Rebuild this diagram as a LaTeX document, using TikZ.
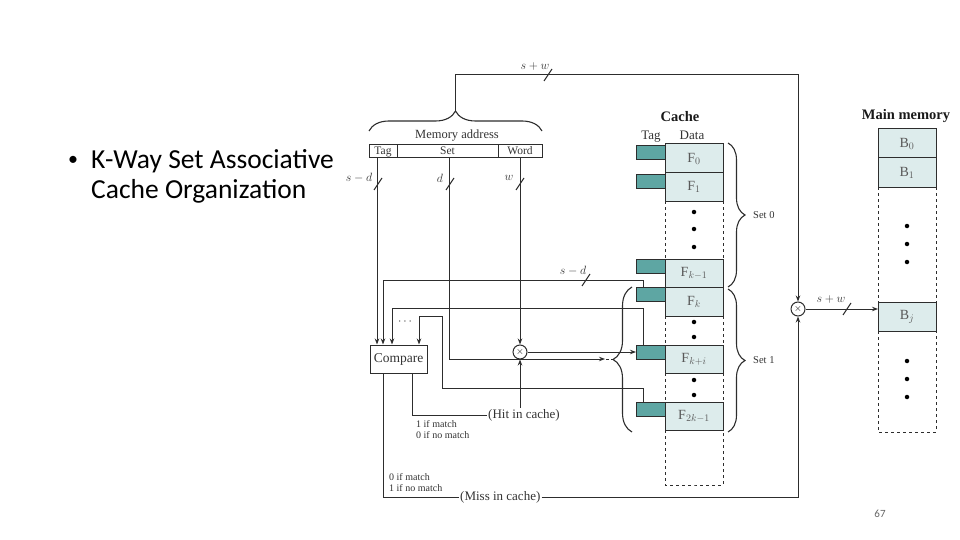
\documentclass[tikz,border=0pt]{standalone}
\usepackage{fontspec}
\setmainfont{Liberation Serif}
\newfontfamily\calibri{Carlito}
\usetikzlibrary{arrows.meta,decorations.pathreplacing,calc}
\definecolor{tagc}{RGB}{94,166,163}
\definecolor{datac}{RGB}{221,236,236}
\definecolor{lnc}{RGB}{45,45,45}
\begin{document}
\begin{tikzpicture}[x=1pt,y=-1pt,
  ln/.style={draw=lnc, line width=1pt},
  arr/.style={ln, -{Stealth[length=6pt,width=4.5pt]}},
  fld/.style={draw=lnc, line width=1pt, minimum height=13pt, text height=8pt, text depth=2.5pt, inner sep=0pt, outer sep=0pt, anchor=north west, text=black!80, font=\fontsize{11.5}{12}\selectfont},
  tagbox/.style={draw=lnc, fill=tagc, line width=0.9pt, minimum width=29pt, minimum height=14pt, inner sep=0pt, outer sep=0pt, anchor=north west},
  databox/.style={draw=lnc, fill=datac, line width=1pt, minimum width=58pt, inner sep=0pt, outer sep=0pt, anchor=north west, text=black!65, font=\fontsize{14}{16}\selectfont},
  dashedcol/.style={draw=lnc, line width=0.9pt, dashed},
  dotn/.style={circle, fill=black, inner sep=0pt, minimum size=4.5pt},
  mux/.style={circle, draw=lnc, line width=1pt, minimum size=14pt, inner sep=0pt, font=\fontsize{10}{10}\selectfont},
  lbl/.style={font=\fontsize{13}{15}\selectfont, text=black!80, inner sep=1pt},
  slbl/.style={font=\fontsize{12}{14}\selectfont, text=black!80, inner sep=0pt},
  small/.style={font=\fontsize{10}{11}\selectfont, text=black!80, align=left, inner sep=0pt},
  head/.style={font=\bfseries\fontsize{14.5}{16}\selectfont, text=black!90},
  mybrace/.style={decorate, decoration={brace, amplitude=#1}, draw=lnc, line width=1.1pt},
  slashmark/.pic={\draw[draw=lnc, line width=1pt] (-4,6) -- (4,-6);}
]
\useasboundingbox (0,0) rectangle (960,540);

% title text
\node[anchor=base west, inner sep=0pt, font=\calibri\fontsize{20}{30}\selectfont] (bul) at (68,166) {•};
\node[anchor=base west, inner sep=0pt, font=\calibri\fontsize{27.5}{30}\selectfont] (tl1) at (91,168) {K-Way Set Associative};
\node[anchor=base west, inner sep=0pt, font=\calibri\fontsize{27.5}{30}\selectfont] (tl2) at (91,198) {Cache Organization};
\node[font=\calibri\fontsize{11}{13}\selectfont, text=black!60] (pn) at (880,514) {67};

% memory address
\node[fld, minimum width=28pt] (tagf) at (369,145) {Tag};
\node[fld, minimum width=101pt] (setf) at (397,145) {Set};
\node[fld, minimum width=44pt] (wordf) at (498,145) {Word};
\node[lbl, font=\fontsize{12.5}{14}\selectfont] (maddr) at (457,136) {Memory address};
\draw[mybrace=20pt] (369,131) -- (542,131);
\coordinate (atip) at (455.5,111);

% cache
\node[head] (cachet) at (680,117) {Cache};
\node[lbl, anchor=base] (tagh) at (651,140) {Tag};
\node[lbl, anchor=base] (datah) at (692,140) {Data};

\node[databox, minimum height=29pt] (f0) at (665,144) {F$_0$};
\node[databox, minimum height=28pt] (f1) at (665,173) {F$_1$};
\node[databox, minimum height=28pt] (fk1) at (665,259) {F$_{k-1}$};
\node[databox, minimum height=29pt] (fk) at (665,287) {F$_k$};
\node[databox, minimum height=28pt] (fki) at (665,345) {F$_{k+i}$};
\node[databox, minimum height=28pt] (f2k) at (665,402) {F$_{2k-1}$};

\node[tagbox] (t0) at (636,145) {};
\node[tagbox] (t1) at (636,174) {};
\node[tagbox] (tk1) at (636,259) {};
\node[tagbox] (tk) at (636,287) {};
\node[tagbox] (tki) at (636,345) {};
\node[tagbox] (t2k) at (636,402) {};

\coordinate (cbot) at (694,485);
\draw[dashedcol] (f1.south west) -- (fk1.north west);
\draw[dashedcol] (f1.south east) -- (fk1.north east);
\draw[dashedcol] (fk.south west) -- (fki.north west);
\draw[dashedcol] (fk.south east) -- (fki.north east);
\draw[dashedcol] (fki.south west) -- (f2k.north west);
\draw[dashedcol] (fki.south east) -- (f2k.north east);
\draw[dashedcol] (f2k.south west) |- (cbot) -| (f2k.south east);

\node[dotn] (cd1) at (694,212) {};
\node[dotn] (cd2) at (694,229) {};
\node[dotn] (cd3) at (694,247) {};
\node[dotn] (cd4) at (694,322) {};
\node[dotn] (cd5) at (694,337) {};
\node[dotn] (cd6) at (694,380) {};
\node[dotn] (cd7) at (694,395) {};

\draw[mybrace=17pt] (728,143) -- (728,287);
\draw[mybrace=17pt] (728,289) -- (728,432);
\node[small, font=\fontsize{10.5}{12}\selectfont, anchor=west] (set0) at (753,215) {Set 0};
\node[small, font=\fontsize{10.5}{12}\selectfont, anchor=west] (set1) at (753,360) {Set 1};

\draw[mybrace=19pt] (632,432) -- (632,287);
\coordinate (btip) at (613,359);

% main memory
\node[head] (mmt) at (906,116) {Main memory};
\node[databox, minimum height=29pt] (b0) at (878,129) {B$_0$};
\node[databox, minimum height=29pt] (b1) at (878,158) {B$_1$};
\node[databox, minimum height=29pt] (bj) at (878,302) {B$_j$};
\coordinate (mbot) at (907,432);
\draw[dashedcol] (b1.south west) -- (bj.north west);
\draw[dashedcol] (b1.south east) -- (bj.north east);
\draw[dashedcol] (bj.south west) |- (mbot) -| (bj.south east);
\node[dotn] (md1) at (907,226) {};
\node[dotn] (md2) at (907,244) {};
\node[dotn] (md3) at (907,262) {};
\node[dotn] (md4) at (907,361) {};
\node[dotn] (md5) at (907,379) {};
\node[dotn] (md6) at (907,397) {};

% compare and muxes
\node[draw=lnc, line width=1pt, minimum width=57pt, minimum height=28pt, lbl, font=\fontsize{13.5}{15}\selectfont] (compare) at (398.5,359) {Compare};
\node[mux] (mux1) at (520,352) {$\times$};
\node[mux] (mux2) at (798,309) {$\times$};
\node[lbl] (dots3) at (405,322) {$\cdots$};

\node[lbl, anchor=west] (hit) at (487,415) {(Hit in cache)};
\node[lbl, anchor=west] (miss) at (459,497) {(Miss in cache)};
\node[small, anchor=north west] (hitc) at (416,420) {1 if match\\0 if no match};
\node[small, anchor=north west] (missc) at (389,473) {0 if match\\1 if no match};

% connectors
\coordinate (topr) at (798,75);
\draw[arr] (atip) |- (topr) -- (mux2.north);
\draw[arr] ([xshift=-6pt]tagf.south) -- ([xshift=-21.5pt]compare.north);
\draw[arr] ([xshift=1.5pt]setf.south) |- ([xshift=-8pt]btip);
\draw[ln, densely dashed] ([xshift=-7pt]btip) -- (btip);
\draw[arr] (wordf.south) -- (mux1.north);
\draw[arr] (mux1.east) -- (mux1.east -| tki.west);
\draw[ln] ([xshift=13.5pt]compare.south) |- (hit.west);
\draw[arr] (mux1 |- hit.north) -- (mux1.south);
\draw[ln] ([xshift=-15.5pt]compare.south) |- (miss.west);
\draw[arr] (miss.east) -| (mux2.south);
\draw[arr] (mux2.east) -- (mux2.east -| bj.west);

\draw[arr] ([xshift=7pt]tk.north west) |- (383,280) -- ([xshift=-15.5pt]compare.north);
\draw[arr] ([xshift=7pt]tki.north west) |- (392,308) -- ([xshift=-6.5pt]compare.north);
\draw[arr] ([xshift=7pt]t2k.north west) |- (442,388) |- (419,316) -- ([xshift=20.5pt]compare.north);

% slashes and bus widths
\pic at (378,184) {slashmark};
\pic at (450,184) {slashmark};
\pic at (520,184) {slashmark};
\pic at (548,75) {slashmark};
\pic at (586,280) {slashmark};
\pic at (847,309) {slashmark};
\node[slbl] (lsd1) at (359,178) {$s-d$};
\node[slbl] (ld) at (440,178) {$d$};
\node[slbl] (lw) at (509,178) {$w$};
\node[slbl] (lsw1) at (535,67) {$s+w$};
\node[slbl] (lsd2) at (573,271) {$s-d$};
\node[slbl] (lsw2) at (831,299) {$s+w$};
\end{tikzpicture}
\end{document}
